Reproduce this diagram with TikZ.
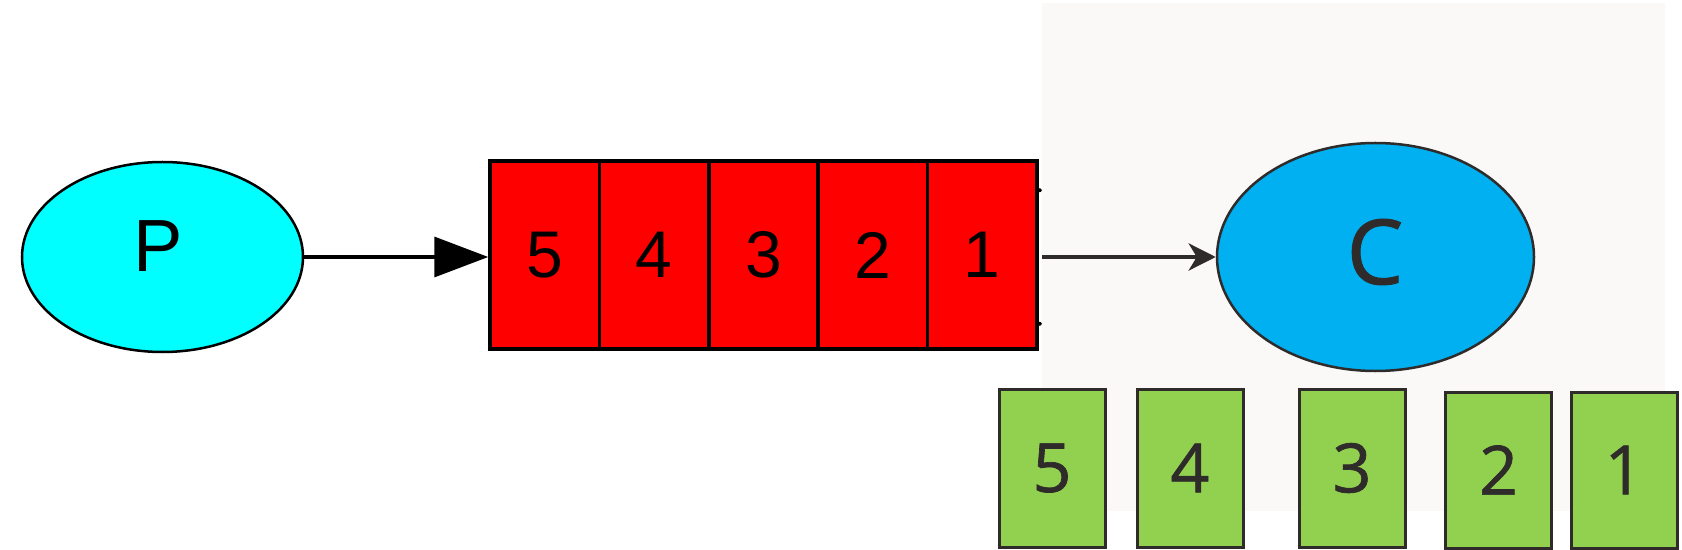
\documentclass[tikz,border=0pt]{standalone}
\usepackage{fontspec}
\setmainfont{Liberation Sans}
\newfontfamily\cfont[FakeBold=1]{Open Sans}
\usetikzlibrary{arrows.meta,shapes.geometric}
\definecolor{bggrey}{HTML}{FAF9F7}
\definecolor{ink}{HTML}{2F2B2A}
\definecolor{pcyan}{HTML}{00FFFF}
\definecolor{cblue}{HTML}{00B0F0}
\definecolor{pgreen}{HTML}{92D050}
\definecolor{qred}{HTML}{FF0000}
\tikzset{
  cell/.style={draw=black, line width=3.5bp, fill=qred, minimum width=109.4bp, minimum height=188bp, inner sep=0pt, font=\fontsize{66bp}{66bp}\selectfont, text=black},
  gbox/.style={draw=ink, line width=3bp, fill=pgreen, minimum width=106bp, minimum height=158bp, inner sep=0pt, font=\cfont\fontsize{68bp}{68bp}\selectfont, text=ink},
}
\begin{document}
\begin{tikzpicture}[x=1bp,y=-1bp]
\useasboundingbox (0,0) rectangle (1682,550);
\fill[bggrey] (1042,3) rectangle (1665,511);
% producer
\node[ellipse, draw=black, line width=2.5bp, fill=pcyan, minimum width=281bp, minimum height=190bp, inner sep=0pt] (P) at (162.5,257) {};
\node[font=\fontsize{74bp}{74bp}\selectfont, inner sep=0pt] (Ptext) at (158,246) {P};
% queue
\node[cell] (q5) at (544.7,255) {5};
\node[cell] (q4) at (654.1,255) {4};
\node[cell] (q3) at (763.5,255) {3};
\node[cell] (q2) at (872.9,255) {2};
\node[cell] (q1) at (982.3,255) {1};
\fill[black] ([xshift=1bp,yshift=-31bp]q1.north east) circle (2bp);
\fill[black] ([xshift=1bp,yshift=27bp]q1.south east) circle (2bp);
\draw[line width=3.5bp, -{Triangle[length=54bp,width=40bp]}] (P.east) -- (P.east -| q5.west);
% consumer
\node[ellipse, draw=ink, line width=2.5bp, fill=cblue, minimum width=317bp, minimum height=228bp, inner sep=0pt] (C) at (1375.5,257) {};
\node[text=ink, font=\cfont\fontsize{90bp}{90bp}\selectfont, inner sep=0pt] (Ctext) at (1375,252) {C};
\coordinate (qout) at (1042,257);
\draw[ink, line width=4.5bp, -{Stealth[length=27bp,width=27bp,inset=8bp]}] (qout) -- (C.west);
% consumed messages
\node[gbox] (g5) at (1052,468) {5};
\node[gbox] (g4) at (1190,468) {4};
\node[gbox] (g3) at (1352,468) {3};
\node[gbox, minimum height=156bp] (g2) at (1498.5,470) {2};
\node[gbox, minimum height=156bp] (g1) at (1624,470) {1};
\end{tikzpicture}
\end{document}
